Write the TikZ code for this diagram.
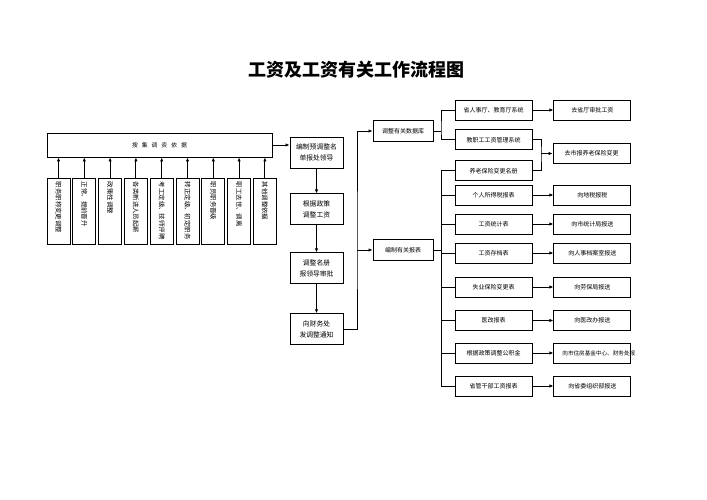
\documentclass[tikz,border=0pt]{standalone}
\usepackage{fontspec}
\newfontfamily\cjk{Noto Sans CJK SC}
\usetikzlibrary{arrows.meta,positioning}

\begin{document}
\begin{tikzpicture}[x=1pt, y=-1pt, >={Latex[length=4pt,width=3.4pt]}, line width=0.9pt,
  box/.style={draw, inner sep=0pt, minimum width=77pt, minimum height=20pt,
        font=\cjk\fontsize{6}{7}\selectfont},
  vbox/.style={draw, rotate=-90, inner xsep=4pt, inner ysep=0pt, minimum height=23pt,
        text width=58pt, align=left, font=\cjk\fontsize{6.4}{7}\selectfont},
  mbox/.style={draw, inner sep=0pt, minimum width=53pt, minimum height=31pt, align=center,
        font=\cjk\fontsize{6.8}{11}\selectfont},
  dbox/.style={draw, inner sep=0pt, minimum width=60pt, minimum height=21pt,
        font=\cjk\fontsize{6}{7}\selectfont}]
  \fill[white] (0,0) rectangle (707,500);
  \useasboundingbox (0,0) rectangle (707,500);

  \node[font=\cjk\bfseries\fontsize{18}{20}\selectfont] (title) at (356,70) {工资及工资有关工作流程图};

  % collecting the basis
  \node[draw, inner sep=0pt, minimum width=225pt, minimum height=24pt,
        font=\cjk\fontsize{5.8}{6}\selectfont] (top) at (159.5,145)
        {搜\hspace{4pt}集\hspace{4pt}调\hspace{4pt}资\hspace{4pt}依\hspace{4pt}据};
  \foreach \t [count=\i] in {职务职称变更调整, 正常、提前晋升, 政策性调整, 各类新进人员起薪,
      考工定级、技师评聘, 转正定级、初定职务, 职员职务晋级, 职工去世、调离, 其他调整依据} {
    \node[vbox] (v\i) at ({32.7+25.8*\i}, 211) {\t};
    \draw[->] (v\i) -- (v\i |- top.south);
  }

  % middle column
  \node[mbox] (m1) at (316.5,152.5) {编制预调整名\\单报处领导};
  \node[mbox, below=25pt of m1] (m2) {根据政策\\调整工资};
  \node[mbox, below=27pt of m2] (m3) {调整名册\\报领导审批};
  \node[mbox, below=29pt of m3] (m4) {向财务处\\发调整通知};
  \draw[->] (top.east) -- (top.east -| m1.west);
  \draw[->] (m1) -- (m2);
  \draw[->] (m2) -- (m3);
  \draw[->] (m3) -- (m4);

  \node[dbox] (d1) at (403,131) {调整有关数据库};
  \node[dbox] (d2) at (403,250) {编制有关报表};
  \coordinate (jn) at (357,250);
  \draw[->] (m4.east) -| (jn) |- (d1.west);
  \draw[->] (jn) -- (d2.west);

  % databases
  \node[box] (s1) at (493.5,110) {省人事厅、教育厅系统};
  \node[box, below=9pt of s1] (s2) {教职工工资管理系统};
  \node[box, below=10pt of s2] (s3) {养老保险变更名册};
  \node[box, right=21pt of s1] (t1) {去省厅审批工资};
  \node[box] (t2) at (591.5,153.5) {去市报养老保险变更};
  \coordinate (ub) at (441,131);
  \coordinate (rb) at (541,153.5);
  \draw (d1.east) -- (ub);
  \draw (s1.west) -| (ub) |- (s2.west);
  \draw[->] (s1) -- (t1);
  \draw (s2.east) -| (rb) |- (s3.east);
  \draw[->] (rb) -- (t2);

  % reports
  \foreach \y/\a/\b [count=\i] in {195/个人所得税报表/向地税报税, 224/工资统计表/向市统计局报送,
      253/工资存档表/向人事档案室报送, 287/失业保险变更表/向劳保局报送, 320.5/医改报表/向医改办报送,
      353/根据政策调整公积金/{\makebox[60pt][l]{\fontsize{5.6}{6}\selectfont 向市住房基金中心、财务处报}},
      386/省管干部工资报表/向省委组织部报送} {
    \node[box] (l\i) at (493.5,\y) {\a};
    \node[box, right=21pt of l\i] (r\i) {\b};
    \draw[->] (l\i) -- (r\i);
  }
  \coordinate (lb) at (441,250);
  \draw (d2.east) -- (lb);
  \draw (s3.west) -| (l7.west -| lb) -- (l7.west);
  \foreach \i in {1,...,6}
    \draw (l\i.west -| lb) -- (l\i.west);
\end{tikzpicture}
\end{document}
